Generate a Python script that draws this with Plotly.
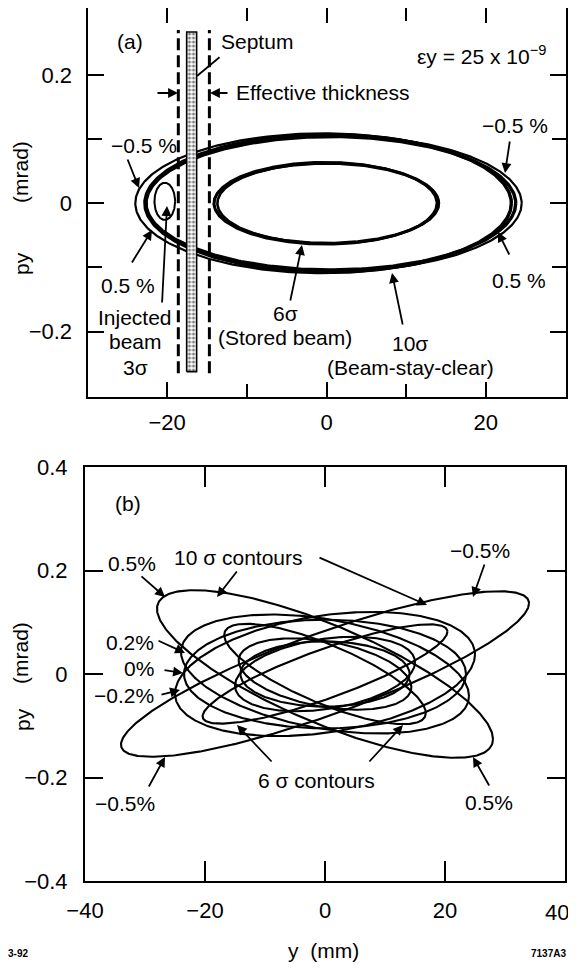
import numpy as np
import plotly.graph_objects as go

W, H = 576, 973
OFF = 8  # page body margin in the browser
FONT = "Liberation Sans, Arial, sans-serif"

# ---------------- Panel (a) data ----------------
# 10-sigma (beam-stay-clear) ellipses for several momentum deviations
a_outer_center = [-0.4, 0.2, 0.55, 0.9]        # mm
a_outer_halfwidth = [23.6, 23.0, 23.2, 23.6]   # mm
a_outer_halfheight = [0.109, 0.107, 0.104, 0.106]  # mrad
# 6-sigma (stored beam) ellipses
a_inner_center = [-0.15, 0.0, 0.2]
a_inner_halfwidth = [14.0, 14.1, 13.9]
a_inner_halfheight = [0.064, 0.062, 0.063]
# injected beam 3-sigma ellipse
inj_center = [-20.3, 0.003]
inj_half = [1.3, 0.029]
# septum and effective thickness
septum_y = [-17.55, -16.3]
septum_p = [-0.2625, 0.267]
eff_y = [-18.6, -14.7]
eff_p = [-0.265, 0.27]

# ---------------- Panel (b) data ----------------
b_deltas = ["0.5%", "0.2%", "0%", "-0.2%", "-0.5%"]
b_amp10 = [28.0, 24.0, 23.5, 25.0, 34.0]          # mm
b_ang10 = [0.162, 0.115, 0.105, 0.12, 0.16]       # mrad
b_amp6 = [16.8, 14.4, 14.1, 15.0, 20.4]
b_ang6 = [0.097, 0.069, 0.063, 0.072, 0.096]
b_phase = [2.46, 1.95, 1.5708, 1.25, 0.55]        # rad (phase between y and py)

# axis ticks
a_xticks = [-20, 0, 20]
a_yticks = [-0.2, 0, 0.2]
b_xticks = [-40, -20, 0, 20, 40]
b_yticks = [-0.4, -0.2, 0, 0.2, 0.4]


def ellipse(cy, cp, a, b, phi, n=400):
    t = np.linspace(0, 2 * np.pi, n)
    return cy + a * np.cos(t), cp + b * np.cos(t + phi)


fig = go.Figure()

# panel a traces
outer_w = [2.2, 3.4, 3.4, 2.2]
for c, a, b, w in zip(a_outer_center, a_outer_halfwidth, a_outer_halfheight, outer_w):
    x, y = ellipse(c, 0, a, b, np.pi / 2)
    fig.add_trace(go.Scatter(x=x, y=y, mode="lines", line=dict(color="black", width=w),
                             xaxis="x", yaxis="y", showlegend=False, hoverinfo="skip"))
for c, a, b in zip(a_inner_center, a_inner_halfwidth, a_inner_halfheight):
    x, y = ellipse(c, 0, a, b, np.pi / 2)
    fig.add_trace(go.Scatter(x=x, y=y, mode="lines", line=dict(color="black", width=2.6),
                             xaxis="x", yaxis="y", showlegend=False, hoverinfo="skip"))
x, y = ellipse(inj_center[0], inj_center[1], inj_half[0], inj_half[1], np.pi / 2)
fig.add_trace(go.Scatter(x=x, y=y, mode="lines", line=dict(color="black", width=2),
                         xaxis="x", yaxis="y", showlegend=False, hoverinfo="skip"))
# septum
fig.add_trace(go.Scatter(
    x=[septum_y[0], septum_y[1], septum_y[1], septum_y[0], septum_y[0]],
    y=[septum_p[0], septum_p[0], septum_p[1], septum_p[1], septum_p[0]],
    mode="lines", fill="toself", fillcolor="rgba(0,0,0,0)",
    fillpattern=dict(shape=".", size=4, solidity=0.45, fgcolor="black", bgcolor="white"),
    line=dict(color="black", width=1.6), xaxis="x", yaxis="y", showlegend=False, hoverinfo="skip"))
# effective thickness dashed lines
for ey in eff_y:
    fig.add_trace(go.Scatter(x=[ey, ey], y=eff_p, mode="lines",
                             line=dict(color="black", width=3, dash="12px,5px"),
                             xaxis="x", yaxis="y", showlegend=False, hoverinfo="skip"))

# panel b traces
for amp, ang, ph in zip(b_amp10, b_ang10, b_phase):
    x, y = ellipse(0, 0, amp, ang, ph)
    fig.add_trace(go.Scatter(x=x, y=y, mode="lines", line=dict(color="black", width=2.1),
                             xaxis="x2", yaxis="y2", showlegend=False, hoverinfo="skip"))
for amp, ang, ph in zip(b_amp6, b_ang6, b_phase):
    x, y = ellipse(0, 0, amp, ang, ph)
    fig.add_trace(go.Scatter(x=x, y=y, mode="lines", line=dict(color="black", width=2.1),
                             xaxis="x2", yaxis="y2", showlegend=False, hoverinfo="skip"))


def px(x):
    return min(max((x - OFF) / W, 0.0), 1.0)


def py(y):
    return min(max(1 - (y - OFF) / H, 0.0), 1.0)


axis_common = dict(showline=True, linecolor="black", linewidth=2, mirror="ticks",
                   ticks="inside", tickcolor="black", tickwidth=2, showgrid=False,
                   zeroline=False, automargin=False,
                   tickfont=dict(family=FONT, size=22, color="black"))

fig.update_layout(
    width=W, height=H, margin=dict(l=0, r=0, t=0, b=0, pad=0, autoexpand=False),
    paper_bgcolor="white", plot_bgcolor="white",
    font=dict(family=FONT, size=21, color="black"),
    xaxis=dict(domain=[px(87.5), px(565.5)], range=[-30, 30], anchor="y",
               tickvals=a_xticks, ticktext=["\u221220", "0", "20"], ticklen=15, ticklabelstandoff=5,
               minor=dict(tickvals=[-10, 10], ticks="inside", ticklen=13, tickwidth=2, tickcolor="black"),
               **axis_common),
    yaxis=dict(domain=[py(397), py(8)], range=[-0.302, 0.3044], anchor="x",
               tickvals=a_yticks, ticktext=["\u22120.2", "0", "0.2"], ticklen=16, ticklabelstandoff=9,
               minor=dict(tickvals=[-0.1, 0.1], ticks="inside", ticklen=14, tickwidth=2, tickcolor="black"),
               **axis_common),
    xaxis2=dict(domain=[px(85), px(565)], range=[-40, 40], anchor="y2",
                tickvals=b_xticks, ticktext=["\u221240", "\u221220", "0", "20", ""],
                ticklen=20, ticklabelstandoff=9, **axis_common),
    yaxis2=dict(domain=[py(881), py(467)], range=[-0.4, 0.4], anchor="x2",
                tickvals=b_yticks, ticktext=["\u22120.4", "\u22120.2", "0", "0.2", "0.4"],
                ticklen=18, ticklabelstandoff=11, **axis_common),
)

anns = []


def text(t, x, y, xanchor="center", size=21, angle=0):
    anns.append(dict(text=t, x=px(x), y=py(y), xref="paper", yref="paper", showarrow=False,
                     xanchor=xanchor, yanchor="middle", textangle=angle,
                     font=dict(family=FONT, size=size, color="black"), borderpad=0))


def arrow(tail, head, headstyle=2):
    anns.append(dict(text="", x=px(head[0]), y=py(head[1]), xref="paper", yref="paper",
                     ax=tail[0] - head[0], ay=tail[1] - head[1], axref="pixel", ayref="pixel",
                     showarrow=True, arrowhead=headstyle, arrowsize=1.1, arrowwidth=1.8,
                     arrowcolor="black", standoff=0, startstandoff=0))


# panel a labels
text("(a)", 130, 42)
text("Septum", 220, 42, "left")
arrow((221, 56), (197, 76), 0)
text("Effective thickness", 235, 93, "left")
arrow((156, 93), (178, 93))
arrow((229, 93), (210, 93))
text("\u03b5y = 25 x 10<sup>\u22129</sup>", 547, 55, "right")
text("\u22120.5 %", 110, 145, "left")
arrow((127, 158), (139, 188))
text("0.5 %", 100, 285, "left")
arrow((131, 264), (152, 230))
text("Injected", 135, 318)
text("beam", 135, 342)
text("3\u03c3", 135, 367)
arrow((162, 304), (167, 206))
text("6\u03c3", 285, 313)
text("(Stored beam)", 285, 337)
arrow((290, 302), (302, 245))
text("10\u03c3", 410, 343)
text("(Beam-stay-clear)", 410, 367)
arrow((403, 326), (392, 273))
text("0.5 %", 519, 280)
arrow((510, 256), (498, 232))
text("\u22120.5 %", 515, 126)
arrow((510, 140), (505, 173))

# panel b labels
text("(b)", 128, 503)
text("0.5%", 132, 563)
arrow((140, 575), (165, 597))
text("10 \u03c3 contours", 173, 557, "left")
arrow((238, 570), (217, 597))
arrow((318, 557), (427, 605))
text("\u22120.5%", 480, 550)
arrow((485, 563), (473, 597))
text("0.2%", 155, 642, "right")
arrow((157, 640), (185, 653))
text("0%", 155, 668, "right")
arrow((163, 670), (183, 673))
text("\u22120.2%", 155, 695, "right")
arrow((160, 695), (180, 690))
text("\u22120.5%", 125, 803)
arrow((148, 788), (165, 757))
text("6 \u03c3 contours", 316, 780)
arrow((273, 763), (237, 725))
arrow((368, 763), (403, 725))
text("0.5%", 489, 802)
arrow((490, 787), (473, 757))
# last x tick label of panel b (sits just inside the page edge)
text("40", 570, 912, "right", size=22)

# axis titles
text("(mrad)", 20, 172, angle=-90)
text("py", 22, 264, angle=-90)
text("(mrad)", 20, 653, angle=-90)
text("py", 22, 720, angle=-90)
text("y  (mm)", 323, 950)
text("<b>3-92</b>", 18, 953, size=10)
text("<b>7137A3</b>", 548, 953, size=10)

fig.update_layout(annotations=anns)
fig.write_html("out.html")
